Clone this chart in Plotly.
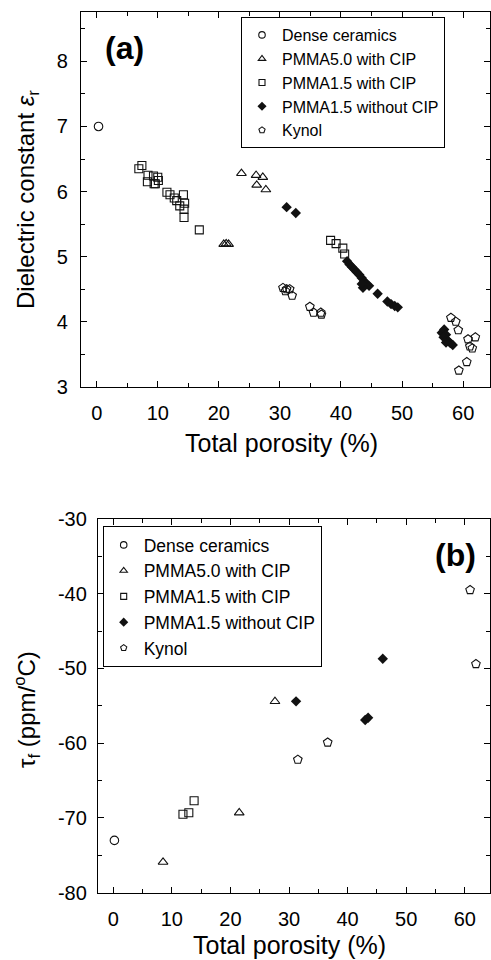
import plotly.graph_objects as go

FONT = "Liberation Sans, Arial, Helvetica, sans-serif"
W, H = 491, 960

# ---------------- Panel (a): dielectric constant vs total porosity ----------------
dense_x_a = [0.3]
dense_y_a = [7.0]

pmma50_x_a = [23.7, 26.1, 27.2, 26.2, 27.7, 20.8, 21.2, 21.6]
pmma50_y_a = [6.28, 6.25, 6.22, 6.10, 6.03, 5.19, 5.20, 5.19]

pmma15_x_a = [6.9, 7.4, 8.4, 9.3, 10.0, 8.3, 9.4, 10.1, 9.6, 11.5, 12.0, 12.7, 13.1,
              14.2, 14.4, 13.6, 14.3, 14.3, 16.8, 38.3, 39.2, 40.3, 40.6]
pmma15_y_a = [6.35, 6.40, 6.25, 6.24, 6.22, 6.15, 6.12, 6.17, 6.12, 5.99, 5.95, 5.90, 5.86,
              5.95, 5.82, 5.78, 5.73, 5.60, 5.41, 5.25, 5.20, 5.13, 5.04]

nocip_x_a = [31.1, 32.6, 41.0, 41.4, 41.8, 42.2, 42.6, 43.0, 43.4, 43.8, 44.2, 44.6, 43.6,
             43.4, 46.0, 47.6, 48.2, 48.8, 49.3, 56.5, 56.9, 57.2, 56.8, 57.3, 57.6, 57.9,
             58.3, 57.2]
nocip_y_a = [5.76, 5.67, 4.93, 4.88, 4.84, 4.80, 4.76, 4.72, 4.67, 4.62, 4.58, 4.55, 4.52,
             4.58, 4.43, 4.31, 4.27, 4.24, 4.22, 3.83, 3.88, 3.80, 3.76, 3.72, 3.70, 3.67,
             3.64, 3.68]

kynol_x_a = [30.5, 31.1, 31.6, 30.9, 32.0, 34.9, 35.5, 36.7, 36.8, 58.0, 58.8, 59.2, 60.8,
             62.0, 61.1, 61.5, 60.6, 59.3]
kynol_y_a = [4.52, 4.50, 4.50, 4.47, 4.40, 4.23, 4.14, 4.14, 4.11, 4.06, 4.00, 3.87, 3.73,
             3.76, 3.62, 3.59, 3.38, 3.25]

# ---------------- Panel (b): tau_f vs total porosity ----------------
dense_x_b = [0.2]
dense_y_b = [-73.0]

pmma50_x_b = [8.5, 21.5, 27.6]
pmma50_y_b = [-75.9, -69.3, -54.4]

pmma15_x_b = [11.9, 12.9, 13.8]
pmma15_y_b = [-69.5, -69.3, -67.7]

nocip_x_b = [31.2, 43.0, 43.5, 46.0]
nocip_y_b = [-54.4, -56.9, -56.6, -48.7]

kynol_x_b = [31.5, 36.6, 60.9, 61.9]
kynol_y_b = [-62.2, -59.9, -39.5, -49.4]

# tick labels of panel (b) y axis (plain hyphen minus as in the original)
tau_ticks = [-80, -70, -60, -50, -40, -30]
tau_ticktext = ["-80", "-70", "-60", "-50", "-40", "-30"]

series_names = ["Dense ceramics", "PMMA5.0 with CIP", "PMMA1.5 with CIP",
                "PMMA1.5 without CIP", "Kynol"]
symbols = ["circle-open", "triangle-up-open", "square-open", "diamond", "pentagon-open"]
sizes = [8.5, 8.5, 8, 8, 9]
legend_sizes = [6.5, 6.5, 6, 7, 6.5]

panel_a = [(dense_x_a, dense_y_a), (pmma50_x_a, pmma50_y_a), (pmma15_x_a, pmma15_y_a),
           (nocip_x_a, nocip_y_a), (kynol_x_a, kynol_y_a)]
panel_b = [(dense_x_b, dense_y_b), (pmma50_x_b, pmma50_y_b), (pmma15_x_b, pmma15_y_b),
           (nocip_x_b, nocip_y_b), (kynol_x_b, kynol_y_b)]

fig = go.Figure()

def marker(sym, size):
    return dict(symbol=sym, size=size, color="#111111",
                line=dict(color="#111111", width=1.1 if sym.endswith("open") else 0))

for (xs, ys), sym, sz in zip(panel_a, symbols, sizes):
    fig.add_trace(go.Scatter(x=xs, y=ys, mode="markers", marker=marker(sym, sz),
                             xaxis="x", yaxis="y", showlegend=False))
for (xs, ys), sym, sz in zip(panel_b, symbols, sizes):
    fig.add_trace(go.Scatter(x=xs, y=ys, mode="markers", marker=marker(sym, sz),
                             xaxis="x2", yaxis="y2", showlegend=False))

# legend entries
for name, sym, lsz in zip(series_names, symbols, legend_sizes):
    fig.add_trace(go.Scatter(x=[None], y=[None], mode="markers", name=name,
                             marker=marker(sym, lsz), xaxis="x", yaxis="y",
                             legend="legend", showlegend=True))
for name, sym, lsz in zip(series_names, symbols, legend_sizes):
    fig.add_trace(go.Scatter(x=[None], y=[None], mode="markers", name=name,
                             marker=marker(sym, lsz), xaxis="x2", yaxis="y2",
                             legend="legend2", showlegend=True))

def axis(rng, dtick, mdtick, domain, anchor, standoff):
    return dict(range=rng, dtick=dtick, tick0=0, domain=domain, anchor=anchor,
                showline=True, linecolor="black", linewidth=1.3, mirror="ticks",
                ticks="inside", ticklen=6, tickwidth=1.2, tickcolor="black",
                showgrid=False, zeroline=False, automargin=False,
                ticklabelstandoff=standoff,
                tickfont=dict(family=FONT, size=20, color="black"),
                minor=dict(ticks="inside", dtick=mdtick, ticklen=3.5, tickwidth=1.2,
                           tickcolor="black", showgrid=False))

ya_top = 960 - 12
ya_bot = 960 - 386.7
yb_top = 960 - 519
yb_bot = 960 - 892.7

y2 = axis([-80, -30], 10, 5, [yb_bot / H, yb_top / H], "x2", 6)
y2.update(tickmode="array", tickvals=tau_ticks, ticktext=tau_ticktext)

fig.update_layout(
    width=W, height=H,
    margin=dict(l=0, r=0, t=0, b=0),
    paper_bgcolor="white", plot_bgcolor="white",
    font=dict(family=FONT, color="black"),
    xaxis=axis([-2.57, 64.4], 10, 5, [81 / W, 490 / W], "y", 8),
    yaxis=axis([3, 8.76], 1, 0.5, [ya_bot / H, ya_top / H], "x", 8),
    xaxis2=axis([-2.6, 64.3], 10, 5, [98 / W, 490 / W], "y2", 8),
    yaxis2=y2,
    legend=dict(x=241 / W, y=(H - 17) / H, xanchor="left", yanchor="top",
                bordercolor="black", borderwidth=1, bgcolor="white",
                font=dict(family=FONT, size=16, color="black"),
                itemwidth=30, tracegroupgap=0, entrywidth=180, entrywidthmode="pixels"),
    legend2=dict(x=102.7 / W, y=(H - 526) / H, xanchor="left", yanchor="top",
                 bordercolor="black", borderwidth=1, bgcolor="white",
                 font=dict(family=FONT, size=17.5, color="black"),
                 itemwidth=30, tracegroupgap=0, entrywidth=195, entrywidthmode="pixels"),
)

def px_ann(text, x, y, size, angle=0, bold=False):
    fig.add_annotation(text=f"<b>{text}</b>" if bold else text,
                       x=x / W, y=(H - y) / H, xref="paper", yref="paper",
                       xanchor="center", yanchor="middle", showarrow=False,
                       textangle=angle, font=dict(family=FONT, size=size, color="black"))

px_ann("Total porosity (%)", 281.7, 443, 25)
px_ann("Total porosity (%)", 289, 945, 25)
px_ann("Dielectric constant <i>ε</i><sub>r</sub>", 27, 200, 24, angle=-90)
px_ann("τ<sub>f</sub> (ppm/<sup>o</sup>C)", 27, 710, 24, angle=-90)
px_ann("(a)", 124, 48, 32, bold=True)
px_ann("(b)", 455, 555, 32, bold=True)

fig.write_html(
    "out.html",
    config={"displayModeBar": False},
    post_script="document.body.style.margin='0';document.body.style.overflow='hidden';",
)
